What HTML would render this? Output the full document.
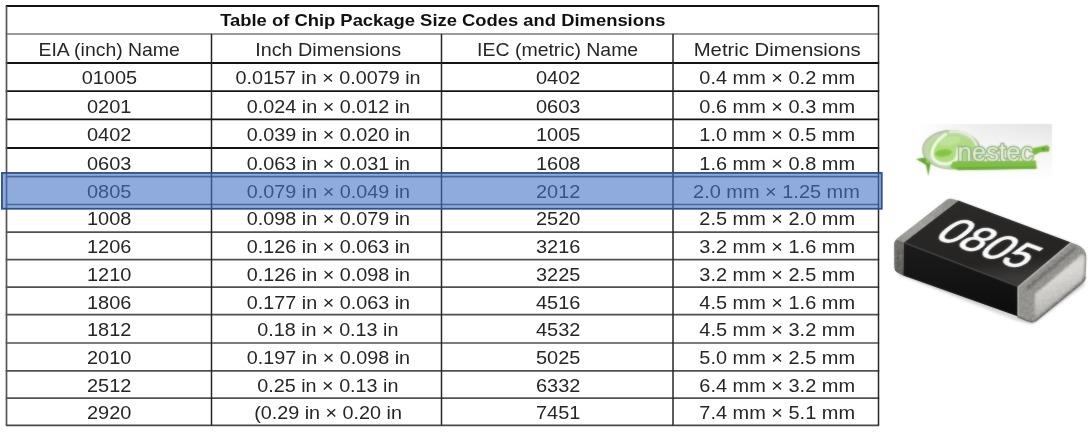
<!DOCTYPE html>
<html><head><meta charset="utf-8"><title>Table of Chip Package Size Codes and Dimensions</title>
<style>
html,body{margin:0;padding:0;background:#fff;}
body{width:1091px;height:432px;position:relative;overflow:hidden;font-family:"Liberation Sans",sans-serif;color:#262626;}
.c{position:absolute;text-align:center;white-space:nowrap;font-size:19.0px;}
.c span{display:inline-block;transform-origin:50% 50%;}
.t{font-weight:bold;color:#111;}
</style></head><body>

<svg width="1091" height="432" viewBox="0 0 1091 432" style="position:absolute;left:0;top:0">
<line x1="5.8" y1="6.00" x2="879.2" y2="6.00" stroke="#141414" stroke-width="2.0"/>
<line x1="5.8" y1="34.00" x2="879.2" y2="34.00" stroke="#7a7a7a" stroke-width="1.6"/>
<line x1="5.8" y1="63.00" x2="879.2" y2="63.00" stroke="#141414" stroke-width="1.9"/>
<line x1="5.8" y1="91.10" x2="879.2" y2="91.10" stroke="#141414" stroke-width="1.9"/>
<line x1="5.8" y1="119.40" x2="879.2" y2="119.40" stroke="#141414" stroke-width="1.9"/>
<line x1="5.8" y1="148.00" x2="879.2" y2="148.00" stroke="#141414" stroke-width="1.9"/>
<line x1="5.8" y1="176.60" x2="879.2" y2="176.60" stroke="#505050" stroke-width="1.7"/>
<line x1="5.8" y1="204.50" x2="879.2" y2="204.50" stroke="#505050" stroke-width="1.7"/>
<line x1="5.8" y1="232.20" x2="879.2" y2="232.20" stroke="#505050" stroke-width="1.7"/>
<line x1="5.8" y1="259.70" x2="879.2" y2="259.70" stroke="#505050" stroke-width="1.7"/>
<line x1="5.8" y1="287.20" x2="879.2" y2="287.20" stroke="#505050" stroke-width="1.7"/>
<line x1="5.8" y1="314.60" x2="879.2" y2="314.60" stroke="#505050" stroke-width="1.7"/>
<line x1="5.8" y1="343.00" x2="879.2" y2="343.00" stroke="#505050" stroke-width="1.7"/>
<line x1="5.8" y1="370.80" x2="879.2" y2="370.80" stroke="#505050" stroke-width="1.7"/>
<line x1="5.8" y1="398.20" x2="879.2" y2="398.20" stroke="#505050" stroke-width="1.7"/>
<line x1="5.8" y1="425.30" x2="879.2" y2="425.30" stroke="#484848" stroke-width="1.8"/>
<line x1="6.50" y1="6.0" x2="6.50" y2="425.3" stroke="#555" stroke-width="1.7"/>
<line x1="211.50" y1="34.0" x2="211.50" y2="425.3" stroke="#262626" stroke-width="1.5"/>
<line x1="441.50" y1="34.0" x2="441.50" y2="425.3" stroke="#262626" stroke-width="1.5"/>
<line x1="673.00" y1="34.0" x2="673.00" y2="425.3" stroke="#262626" stroke-width="1.5"/>
<line x1="878.50" y1="6.0" x2="878.50" y2="425.3" stroke="#262626" stroke-width="1.5"/>
</svg>
<div class="c t" id="title" style="font-size:17px;left:6.5px;top:7.0px;width:872.0px;line-height:28.0px"><span style="transform:scaleX(1.082)">Table of Chip Package Size Codes and Dimensions</span></div>
<div class="c" id="r0c0" style="left:7.0px;top:35.0px;width:205.0px;line-height:29.0px"><span style="transform:scaleX(1.022)">EIA (inch) Name</span></div>
<div class="c" id="r0c1" style="left:213.0px;top:35.0px;width:230.0px;line-height:29.0px"><span style="transform:scaleX(1.039)">Inch Dimensions</span></div>
<div class="c" id="r0c2" style="left:442.3px;top:35.0px;width:231.5px;line-height:29.0px"><span style="transform:scaleX(1.024)">IEC (metric) Name</span></div>
<div class="c" id="r0c3" style="left:674.0px;top:35.0px;width:205.5px;line-height:29.0px"><span style="transform:scaleX(1.068)">Metric Dimensions</span></div>
<div class="c" id="r1c0" style="left:7.0px;top:64.0px;width:205.0px;line-height:28.1px"><span style="transform:scaleX(1.050)">01005</span></div>
<div class="c" id="r1c1" style="left:213.0px;top:64.0px;width:230.0px;line-height:28.1px"><span style="transform:scaleX(1.040)">0.0157 in × 0.0079 in</span></div>
<div class="c" id="r1c2" style="left:442.3px;top:64.0px;width:231.5px;line-height:28.1px"><span style="transform:scaleX(1.050)">0402</span></div>
<div class="c" id="r1c3" style="left:674.0px;top:64.0px;width:205.5px;line-height:28.1px"><span style="transform:scaleX(1.049)">0.4 mm × 0.2 mm</span></div>
<div class="c" id="r2c0" style="left:7.0px;top:93.1px;width:205.0px;line-height:28.3px"><span style="transform:scaleX(1.050)">0201</span></div>
<div class="c" id="r2c1" style="left:213.0px;top:93.1px;width:230.0px;line-height:28.3px"><span style="transform:scaleX(1.040)">0.024 in × 0.012 in</span></div>
<div class="c" id="r2c2" style="left:442.3px;top:93.1px;width:231.5px;line-height:28.3px"><span style="transform:scaleX(1.050)">0603</span></div>
<div class="c" id="r2c3" style="left:674.0px;top:93.1px;width:205.5px;line-height:28.3px"><span style="transform:scaleX(1.049)">0.6 mm × 0.3 mm</span></div>
<div class="c" id="r3c0" style="left:7.0px;top:121.4px;width:205.0px;line-height:28.6px"><span style="transform:scaleX(1.050)">0402</span></div>
<div class="c" id="r3c1" style="left:213.0px;top:121.4px;width:230.0px;line-height:28.6px"><span style="transform:scaleX(1.040)">0.039 in × 0.020 in</span></div>
<div class="c" id="r3c2" style="left:442.3px;top:121.4px;width:231.5px;line-height:28.6px"><span style="transform:scaleX(1.050)">1005</span></div>
<div class="c" id="r3c3" style="left:674.0px;top:121.4px;width:205.5px;line-height:28.6px"><span style="transform:scaleX(1.049)">1.0 mm × 0.5 mm</span></div>
<div class="c" id="r4c0" style="left:7.0px;top:150.0px;width:205.0px;line-height:28.6px"><span style="transform:scaleX(1.050)">0603</span></div>
<div class="c" id="r4c1" style="left:213.0px;top:150.0px;width:230.0px;line-height:28.6px"><span style="transform:scaleX(1.040)">0.063 in × 0.031 in</span></div>
<div class="c" id="r4c2" style="left:442.3px;top:150.0px;width:231.5px;line-height:28.6px"><span style="transform:scaleX(1.050)">1608</span></div>
<div class="c" id="r4c3" style="left:674.0px;top:150.0px;width:205.5px;line-height:28.6px"><span style="transform:scaleX(1.049)">1.6 mm × 0.8 mm</span></div>
<div class="c" id="r5c0" style="left:7.0px;top:177.6px;width:205.0px;line-height:27.9px"><span style="transform:scaleX(1.050)">0805</span></div>
<div class="c" id="r5c1" style="left:213.0px;top:177.6px;width:230.0px;line-height:27.9px"><span style="transform:scaleX(1.040)">0.079 in × 0.049 in</span></div>
<div class="c" id="r5c2" style="left:442.3px;top:177.6px;width:231.5px;line-height:27.9px"><span style="transform:scaleX(1.050)">2012</span></div>
<div class="c" id="r5c3" style="left:674.0px;top:177.6px;width:205.5px;line-height:27.9px"><span style="transform:scaleX(1.049)">2.0 mm × 1.25 mm</span></div>
<div class="c" id="r6c0" style="left:7.0px;top:204.5px;width:205.0px;line-height:27.7px"><span style="transform:scaleX(1.050)">1008</span></div>
<div class="c" id="r6c1" style="left:213.0px;top:204.5px;width:230.0px;line-height:27.7px"><span style="transform:scaleX(1.040)">0.098 in × 0.079 in</span></div>
<div class="c" id="r6c2" style="left:442.3px;top:204.5px;width:231.5px;line-height:27.7px"><span style="transform:scaleX(1.050)">2520</span></div>
<div class="c" id="r6c3" style="left:674.0px;top:204.5px;width:205.5px;line-height:27.7px"><span style="transform:scaleX(1.049)">2.5 mm × 2.0 mm</span></div>
<div class="c" id="r7c0" style="left:7.0px;top:233.2px;width:205.0px;line-height:27.5px"><span style="transform:scaleX(1.050)">1206</span></div>
<div class="c" id="r7c1" style="left:213.0px;top:233.2px;width:230.0px;line-height:27.5px"><span style="transform:scaleX(1.040)">0.126 in × 0.063 in</span></div>
<div class="c" id="r7c2" style="left:442.3px;top:233.2px;width:231.5px;line-height:27.5px"><span style="transform:scaleX(1.050)">3216</span></div>
<div class="c" id="r7c3" style="left:674.0px;top:233.2px;width:205.5px;line-height:27.5px"><span style="transform:scaleX(1.049)">3.2 mm × 1.6 mm</span></div>
<div class="c" id="r8c0" style="left:7.0px;top:260.7px;width:205.0px;line-height:27.5px"><span style="transform:scaleX(1.050)">1210</span></div>
<div class="c" id="r8c1" style="left:213.0px;top:260.7px;width:230.0px;line-height:27.5px"><span style="transform:scaleX(1.040)">0.126 in × 0.098 in</span></div>
<div class="c" id="r8c2" style="left:442.3px;top:260.7px;width:231.5px;line-height:27.5px"><span style="transform:scaleX(1.050)">3225</span></div>
<div class="c" id="r8c3" style="left:674.0px;top:260.7px;width:205.5px;line-height:27.5px"><span style="transform:scaleX(1.049)">3.2 mm × 2.5 mm</span></div>
<div class="c" id="r9c0" style="left:7.0px;top:289.2px;width:205.0px;line-height:27.4px"><span style="transform:scaleX(1.050)">1806</span></div>
<div class="c" id="r9c1" style="left:213.0px;top:289.2px;width:230.0px;line-height:27.4px"><span style="transform:scaleX(1.040)">0.177 in × 0.063 in</span></div>
<div class="c" id="r9c2" style="left:442.3px;top:289.2px;width:231.5px;line-height:27.4px"><span style="transform:scaleX(1.050)">4516</span></div>
<div class="c" id="r9c3" style="left:674.0px;top:289.2px;width:205.5px;line-height:27.4px"><span style="transform:scaleX(1.049)">4.5 mm × 1.6 mm</span></div>
<div class="c" id="r10c0" style="left:7.0px;top:315.6px;width:205.0px;line-height:28.4px"><span style="transform:scaleX(1.050)">1812</span></div>
<div class="c" id="r10c1" style="left:213.0px;top:315.6px;width:230.0px;line-height:28.4px"><span style="transform:scaleX(1.040)">0.18 in × 0.13 in</span></div>
<div class="c" id="r10c2" style="left:442.3px;top:315.6px;width:231.5px;line-height:28.4px"><span style="transform:scaleX(1.050)">4532</span></div>
<div class="c" id="r10c3" style="left:674.0px;top:315.6px;width:205.5px;line-height:28.4px"><span style="transform:scaleX(1.049)">4.5 mm × 3.2 mm</span></div>
<div class="c" id="r11c0" style="left:7.0px;top:344.0px;width:205.0px;line-height:27.8px"><span style="transform:scaleX(1.050)">2010</span></div>
<div class="c" id="r11c1" style="left:213.0px;top:344.0px;width:230.0px;line-height:27.8px"><span style="transform:scaleX(1.040)">0.197 in × 0.098 in</span></div>
<div class="c" id="r11c2" style="left:442.3px;top:344.0px;width:231.5px;line-height:27.8px"><span style="transform:scaleX(1.050)">5025</span></div>
<div class="c" id="r11c3" style="left:674.0px;top:344.0px;width:205.5px;line-height:27.8px"><span style="transform:scaleX(1.049)">5.0 mm × 2.5 mm</span></div>
<div class="c" id="r12c0" style="left:7.0px;top:371.8px;width:205.0px;line-height:27.4px"><span style="transform:scaleX(1.050)">2512</span></div>
<div class="c" id="r12c1" style="left:213.0px;top:371.8px;width:230.0px;line-height:27.4px"><span style="transform:scaleX(1.040)">0.25 in × 0.13 in</span></div>
<div class="c" id="r12c2" style="left:442.3px;top:371.8px;width:231.5px;line-height:27.4px"><span style="transform:scaleX(1.050)">6332</span></div>
<div class="c" id="r12c3" style="left:674.0px;top:371.8px;width:205.5px;line-height:27.4px"><span style="transform:scaleX(1.049)">6.4 mm × 3.2 mm</span></div>
<div class="c" id="r13c0" style="left:7.0px;top:399.2px;width:205.0px;line-height:27.1px"><span style="transform:scaleX(1.050)">2920</span></div>
<div class="c" id="r13c1" style="left:213.0px;top:399.2px;width:230.0px;line-height:27.1px"><span style="transform:scaleX(1.040)">(0.29 in × 0.20 in</span></div>
<div class="c" id="r13c2" style="left:442.3px;top:399.2px;width:231.5px;line-height:27.1px"><span style="transform:scaleX(1.050)">7451</span></div>
<div class="c" id="r13c3" style="left:674.0px;top:399.2px;width:205.5px;line-height:27.1px"><span style="transform:scaleX(1.049)">7.4 mm × 5.1 mm</span></div>
<svg id="art" width="1091" height="432" viewBox="0 0 1091 432" style="position:absolute;left:0;top:0">
<defs>
  <filter id="b1" x="-5%" y="-5%" width="110%" height="110%" color-interpolation-filters="sRGB"><feGaussianBlur stdDeviation="0.85" result="b"/><feComposite in="b" in2="SourceGraphic" operator="arithmetic" k1="0" k2="0.3" k3="0.7" k4="0"/></filter>
  <filter id="bL" x="-5%" y="-10%" width="110%" height="120%" color-interpolation-filters="sRGB"><feGaussianBlur stdDeviation="0.85" result="b"/><feComposite in="b" in2="SourceGraphic" operator="arithmetic" k1="0" k2="0.55" k3="0.45" k4="0"/></filter>
  <filter id="b2" x="-10%" y="-10%" width="120%" height="120%"><feGaussianBlur stdDeviation="1.2"/></filter>
  <filter id="b3" x="-20%" y="-20%" width="140%" height="140%"><feGaussianBlur stdDeviation="2.2"/></filter>
  <filter id="nz" x="0" y="0" width="100%" height="100%">
    <feTurbulence type="fractalNoise" baseFrequency="0.4" numOctaves="2" seed="7" result="n"/>
    <feColorMatrix in="n" type="matrix" values="0 0 0 0 0.5  0 0 0 0 0.5  0 0 0 0 0.5  1.6 0 0 0 -0.55" result="g"/>
    <feComposite in="g" in2="SourceGraphic" operator="in"/>
  </filter>
  <filter id="nzw" x="0" y="0" width="100%" height="100%">
    <feTurbulence type="fractalNoise" baseFrequency="0.4" numOctaves="2" seed="3" result="n"/>
    <feColorMatrix in="n" type="matrix" values="0 0 0 0 1  0 0 0 0 1  0 0 0 0 1  0 1.8 0 0 -0.7" result="g"/>
    <feComposite in="g" in2="SourceGraphic" operator="in"/>
  </filter>
  <linearGradient id="gTop" x1="0" y1="0" x2="0.25" y2="1">
    <stop offset="0" stop-color="#2b2a29"/><stop offset="0.8" stop-color="#252423"/><stop offset="1" stop-color="#3a3938"/>
  </linearGradient>
  <linearGradient id="gFront" x1="0" y1="0" x2="0" y2="1">
    <stop offset="0" stop-color="#1d1c1c"/><stop offset="1" stop-color="#0c0c0c"/>
  </linearGradient>
  <linearGradient id="gLT" x1="0" y1="1" x2="1" y2="0">
    <stop offset="0" stop-color="#827f7b"/><stop offset="0.5" stop-color="#9c9a95"/><stop offset="1" stop-color="#878580"/>
  </linearGradient>
  <linearGradient id="gLF" x1="0" y1="0" x2="0" y2="1">
    <stop offset="0" stop-color="#65635f"/><stop offset="1" stop-color="#4f4d4a"/>
  </linearGradient>
  <linearGradient id="gRT" x1="0" y1="0" x2="1" y2="1">
    <stop offset="0" stop-color="#9a9893"/><stop offset="0.45" stop-color="#7d7b77"/><stop offset="1" stop-color="#b8b6b1"/>
  </linearGradient>
  <linearGradient id="gRF" x1="0" y1="0" x2="1" y2="0">
    <stop offset="0" stop-color="#8e8c88"/><stop offset="0.6" stop-color="#777571"/><stop offset="1" stop-color="#9c9a96"/>
  </linearGradient>
  <linearGradient id="gRE" x1="0.2" y1="0" x2="0.6" y2="1">
    <stop offset="0" stop-color="#c4c2be"/><stop offset="0.4" stop-color="#dbd9d5"/><stop offset="0.75" stop-color="#b6b4b0"/><stop offset="1" stop-color="#858380"/>
  </linearGradient>
  <linearGradient id="gBg" x1="0" y1="0" x2="0" y2="1">
    <stop offset="0" stop-color="#e4e4e4"/><stop offset="0.45" stop-color="#f4f4f4"/><stop offset="1" stop-color="#ffffff"/>
  </linearGradient>
  <linearGradient id="gBgX" x1="0" y1="0" x2="1" y2="0">
    <stop offset="0" stop-color="#fff" stop-opacity="1"/><stop offset="0.5" stop-color="#fff" stop-opacity="0.3"/><stop offset="1" stop-color="#fff" stop-opacity="0"/>
  </linearGradient>
</defs>

<!-- highlight -->
<rect x="1.95" y="172.95" width="879.8" height="35.8" fill="rgba(68,114,196,0.6)" stroke="#2c5092" stroke-width="1.8"/>

<!-- ===== logo ===== -->
<g filter="url(#b1)">
  <rect x="917" y="124" width="135" height="57" fill="url(#gBg)"/>
  <rect x="917" y="124" width="135" height="57" fill="url(#gBgX)"/>
</g>
<g filter="url(#bL)">
  <!-- star -->
  <path d="M916,159 L925,157.5 L928,153 L930.5,158 L937,161.5 L930.5,164 L928.3,176 L926,165 Z" fill="#62a82a"/>
  <circle cx="928" cy="161" r="2.2" fill="#8fd04f"/>
  <!-- O -->
  <ellipse cx="951.3" cy="149.8" rx="28.6" ry="19.2" fill="#c2d5b0" stroke="#9cb784" stroke-width="1.2"/>
  <ellipse cx="952.3" cy="150.2" rx="23.5" ry="15.3" fill="#b0db80"/>
  <ellipse cx="943.5" cy="153" rx="8.5" ry="3.6" fill="#84c644" transform="rotate(-8 943.5 153)"/>
  <ellipse cx="950" cy="141" rx="11" ry="4.5" fill="#bfe39a" transform="rotate(-12 950 141)"/>
  <path d="M945.5,134.5 C935,141 928.5,153 934,159.5 C941,166.5 955,165 957.5,156 L958,148.5" fill="none" stroke="#eff8e6" stroke-width="3.2" stroke-linecap="round" stroke-linejoin="round"/>
  <path d="M949,131.8 C964,129.8 976,137 977.2,149" fill="none" stroke="#e4f0d8" stroke-width="2.4"/>
  <!-- band -->
  <path d="M953,161.5 L1036,160.5 L1036.5,168.6 L958,170 Q953,169.5 950,167 Z" fill="#7fc043"/>
  <path d="M955,167.2 L1036.3,166.2 L1036.5,168.8 L958,170.2 Z" fill="#69a935"/>
  <!-- tail -->
  <path d="M1030,148.8 L1047,145.3 L1049.5,147 L1049,151.5 L1040,152.2 L1034,155.5 Z" fill="#74ba35"/>
  <circle cx="1043.5" cy="149" r="1.3" fill="#4e8f1e"/>
  <circle cx="1047.5" cy="150" r="1.1" fill="#5b9c26"/>
  <text x="957.5" y="160.6" font-family="Liberation Sans, sans-serif" font-size="25.5" fill="#e8f4dc" stroke="#8aaa72" stroke-width="2.6" stroke-linejoin="round" paint-order="stroke" textLength="76" lengthAdjust="spacingAndGlyphs">nestec</text>
</g>

<!-- ===== chip ===== -->
<g filter="url(#b1)">
  <!-- shadow -->
  <path d="M897,270 L1018,317 L1030,321.5 L1085,281 L1084,286 L1032,324.5 L1016,320.5 L899,275 Z" fill="#aaaaaa" opacity="0.45" filter="url(#b2)"/>
  <!-- left terminal top + front -->
  <path d="M947,199.5 Q948.5,198.3 951,198.8 L958.5,200.6 L903.8,242.4 L903.2,275.6 L897.5,272.5 Q894.5,271 894.5,267 L894.3,245 Q894.3,241 897,238.5 Z" fill="url(#gLT)"/>
  <path d="M894.3,243 Q894.5,240.5 897,239.5 L903.8,242.4 L903.2,275.6 L897.5,272.5 Q894.5,271 894.5,267 Z" fill="url(#gLF)"/>
  <!-- body top -->
  <path d="M958.5,200.6 L1070.5,242.3 L1018,286.5 L903.8,242.4 Z" fill="url(#gTop)"/>
  <!-- body front -->
  <path d="M903.8,242.4 L1018,286.5 L1018,316.5 L903.2,275.6 Z" fill="url(#gFront)"/>
  <!-- front top edge highlight -->
  <path d="M903.8,242.4 L1018,286.5" stroke="#454443" stroke-width="1.6" fill="none" opacity="0.8"/>
  <!-- right terminal: whole silhouette -->
  <path d="M1070.5,242.3 L1078,245 Q1086.8,249 1086.4,258 L1085.8,275 Q1085.5,280.5 1081.3,284 L1036.5,320.6 Q1032.5,323.2 1028,321.3 L1017.5,317 L1017.5,286.5 Z" fill="#8b8985"/>
  <!-- end face (lighter) -->
  <path d="M1035,294 L1081,255 Q1084.5,253 1084.5,258 L1084,274 Q1083.5,278.5 1080,281.3 L1038,315.8 Q1035,318 1034.6,314 Z" fill="url(#gRE)" filter="url(#b2)"/>
  <!-- dark streak on top band -->
  <path d="M1075.5,247.5 L1027,288.5" stroke="#5f5d5a" stroke-width="3.4" fill="none" opacity="0.85" filter="url(#b2)"/>
  <!-- dark streak on front band -->
  <path d="M1024.5,292 L1024.5,317" stroke="#706e6a" stroke-width="4" fill="none" opacity="0.7" filter="url(#b2)"/>
  <!-- light rim next to body -->
  <path d="M1071,243 L1018.3,287.3 L1018.3,315.5" stroke="#b3b1ac" stroke-width="1.4" fill="none" opacity="0.85"/>
  <!-- bottom dark edge -->
  <path d="M1017.5,316.6 L1028,321 Q1032.3,322.8 1036.3,320.2 L1081.2,283.6 Q1084.5,281 1085.3,277" stroke="#5a5855" stroke-width="1.8" fill="none" opacity="0.85" filter="url(#b1)"/>
  <!-- texture overlays -->
  <g opacity="0.28" filter="url(#b1)">
    <path filter="url(#nz)" d="M1070.5,242.3 L1078,245 Q1086.8,249 1086.4,258 L1085.8,275 Q1085.5,280.5 1081.3,284 L1036.5,320.6 Q1032.5,323.2 1028,321.3 L1017.5,317 L1017.5,286.5 Z" fill="#000"/>
    <path filter="url(#nzw)" d="M1070.5,242.3 L1078,245 Q1086.8,249 1086.4,258 L1085.8,275 Q1085.5,280.5 1081.3,284 L1036.5,320.6 Q1032.5,323.2 1028,321.3 L1017.5,317 L1017.5,286.5 Z" fill="#fff"/>
    <path filter="url(#nz)" d="M947,199.5 Q948.5,198.3 951,198.8 L958.5,200.6 L903.8,242.4 L903.2,275.6 L897.5,272.5 Q894.5,271 894.5,267 L894.3,245 Q894.3,241 897,238.5 Z" fill="#000"/>
    <path filter="url(#nzw)" d="M947,199.5 Q948.5,198.3 951,198.8 L958.5,200.6 L903.8,242.4 L903.2,275.6 L897.5,272.5 Q894.5,271 894.5,267 L894.3,245 Q894.3,241 897,238.5 Z" fill="#fff"/>
  </g>
  <!-- text -->
  <g transform="matrix(0.979,0.362,-0.9375,0.7225,932.2,237.8)">
    <text x="0" y="0" font-family="Liberation Sans, sans-serif" font-size="40" fill="#fdfdfd" stroke="#fdfdfd" stroke-width="1.0">0805</text>
  </g>
</g>
</svg>

</body></html>
